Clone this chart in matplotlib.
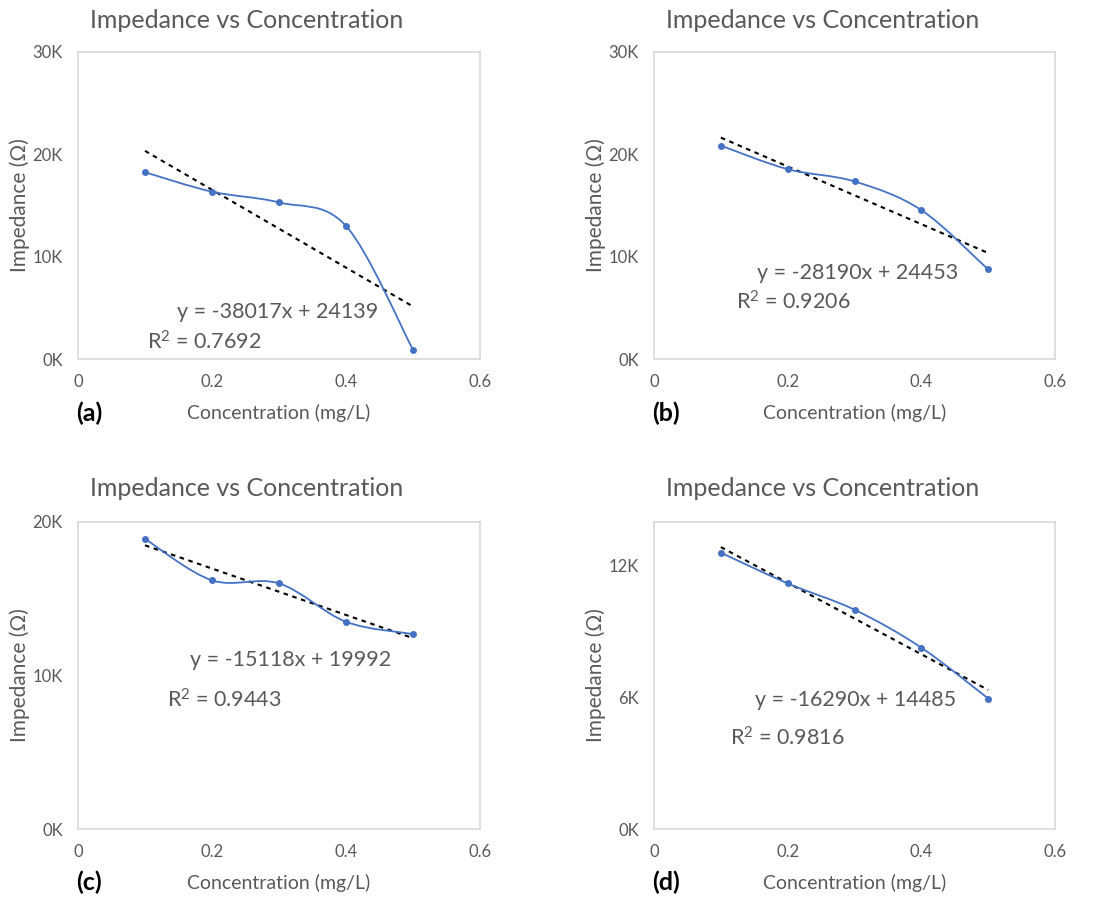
import numpy as np
import matplotlib
matplotlib.use("Agg")
import matplotlib.pyplot as plt
from matplotlib.path import Path
from matplotlib.patches import PathPatch

plt.rcParams['font.family'] = ['Lato', 'DejaVu Sans']
plt.rcParams['mathtext.fontset'] = 'custom'
plt.rcParams['mathtext.rm'] = 'Lato'
plt.rcParams['mathtext.it'] = 'Lato:italic'
plt.rcParams['mathtext.bf'] = 'Lato:bold'

# ---------------- data ----------------
concentration = [0.1, 0.2, 0.3, 0.4, 0.5]
impedance_a = [18250, 16350, 15300, 13000, 900]
impedance_b = [20850, 18550, 17350, 14550, 8750]
impedance_c = [18900, 16200, 16000, 13500, 12700]
impedance_d = [12600, 11200, 10000, 8270, 5950]
slopes = [-38017, -28190, -15118, -16290]
intercepts = [24139, 24453, 19992, 14485]
r_squared = ["0.7692", "0.9206", "0.9443", "0.9816"]
panel_letters = ["(a)", "(b)", "(c)", "(d)"]
y_max = [30000, 30000, 20000, 14000]
y_ticks = [[0, 10000, 20000, 30000], [0, 10000, 20000, 30000],
           [0, 10000, 20000], [0, 6000, 12000]]
x_ticks = [0, 0.2, 0.4, 0.6]
x_tick_labels = ["0", "0.2", "0.4", "0.6"]
title_text = "Impedance vs Concentration"
x_label = "Concentration (mg/L)"
y_label = "Impedance (Ω)"

W, H = 1106, 900
fig = plt.figure(figsize=(W / 100, H / 100), dpi=100)

GRAY = "#595959"
BLUE = "#4472C4"

# layout (pixel positions)
axes_boxes = [(78, 52, 480, 359), (654, 52, 1055, 359),
              (78, 522, 480, 829), (654, 522, 1055, 829)]
title_pos = [(247, 20), (823, 20), (247, 489), (823, 489)]
ylabel_x = [20, 596, 20, 596]
xlabel_y = [413, 413, 883, 883]
letter_pos = [(89, 413), (666, 413), (89, 882), (666, 882)]
eq_pos = [(0.246, 0.153), (0.257, 0.28), (0.279, 0.55), (0.252, 0.42)]
r2_pos = [(0.172, 0.055), (0.204, 0.186), (0.221, 0.42), (0.19, 0.296)]

series = [impedance_a, impedance_b, impedance_c, impedance_d]


def fx(px):
    return px / W


def fy(py):
    return 1 - py / H


def smooth_path(xs, ys, xr, yr, wpx, hpx):
    xs = np.asarray(xs, float)
    ys = np.asarray(ys, float)
    px = (xs - xr[0]) / (xr[1] - xr[0]) * wpx
    py = (ys - yr[0]) / (yr[1] - yr[0]) * hpx
    P = np.column_stack([px, py])
    n = len(P)
    verts = [P[0]]
    codes = [Path.MOVETO]
    for i in range(n - 1):
        p0 = P[i - 1] if i > 0 else P[i]
        p1 = P[i]
        p2 = P[i + 1]
        p3 = P[i + 2] if i + 2 < n else P[i + 1]
        c1 = p1 + (p2 - p0) / 6.0
        c2 = p2 - (p3 - p1) / 6.0
        verts += [c1, c2, p2]
        codes += [Path.CURVE4] * 3
    V = np.array(verts)
    V[:, 0] = V[:, 0] / wpx * (xr[1] - xr[0]) + xr[0]
    V[:, 1] = V[:, 1] / hpx * (yr[1] - yr[0]) + yr[0]
    return Path(V, codes)


for k in range(4):
    l, t, r, b = axes_boxes[k]
    ax = fig.add_axes([fx(l), fy(b), (r - l) / W, (b - t) / H])
    xr = (0, 0.6)
    yr = (0, y_max[k])
    ax.set_xlim(*xr)
    ax.set_ylim(*yr)
    for s in ax.spines.values():
        s.set_color("#D9D9D9")
        s.set_linewidth(1.2)
    ax.set_xticks(x_ticks)
    ax.set_xticklabels(x_tick_labels)
    ax.set_yticks(y_ticks[k])
    ax.set_yticklabels([f"{v // 1000}K" for v in y_ticks[k]])
    ax.tick_params(length=0, labelsize=12, colors=GRAY, pad=11)

    # trendline
    tx = np.array([concentration[0], concentration[-1]])
    ax.plot(tx, slopes[k] * tx + intercepts[k], color="black",
            linewidth=1.5, linestyle=(0, (2.2, 2.2)), zorder=2)

    # smoothed series line
    path = smooth_path(concentration, series[k], xr, yr, r - l, b - t)
    ax.add_patch(PathPatch(path, facecolor="none", edgecolor=BLUE,
                           linewidth=1.3, zorder=3))
    ax.plot(concentration, series[k], linestyle="none", marker="o",
            markersize=4, color=BLUE, zorder=4)

    # equation labels
    ax.text(eq_pos[k][0], eq_pos[k][1],
            f"y = {slopes[k]}x + {intercepts[k]}",
            transform=ax.transAxes, fontsize=15.5, color=GRAY,
            ha="left", va="center")
    ax.text(r2_pos[k][0], r2_pos[k][1], f"R$^{{2}}$ = {r_squared[k]}",
            transform=ax.transAxes, fontsize=15.5, color=GRAY,
            ha="left", va="center")

    # titles and labels
    fig.text(fx(title_pos[k][0]), fy(title_pos[k][1]), title_text,
             fontsize=18, color=GRAY, ha="center", va="center")
    fig.text(fx(ylabel_x[k]), fy((t + b) / 2), y_label, rotation=90,
             fontsize=15, color=GRAY, ha="center", va="center")
    fig.text(fx((l + r) / 2), fy(xlabel_y[k]), x_label,
             fontsize=14, color=GRAY, ha="center", va="center")
    fig.text(fx(letter_pos[k][0]), fy(letter_pos[k][1]), panel_letters[k],
             fontsize=18, fontweight="bold", color="black",
             ha="center", va="center")

fig.savefig("out.png", dpi=100, facecolor="white")
